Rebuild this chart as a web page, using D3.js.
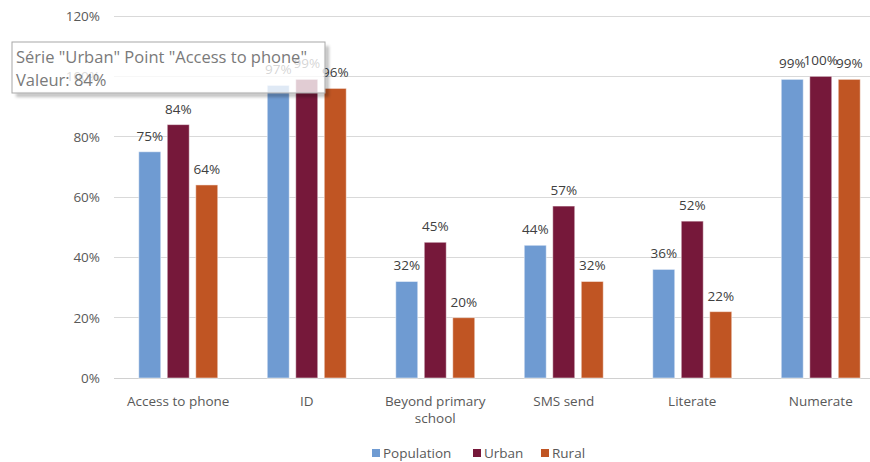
<!DOCTYPE html>
<html><head><meta charset="utf-8">
<script src="https://cdn.jsdelivr.net/npm/d3@7"></script>
<style>
body{margin:0;background:#fff;}
svg{display:block;font-family:"Open Sans","Noto Sans",sans-serif;}
</style></head>
<body><svg id="c" width="870" height="462"></svg>
<script>
const categories = ["Access to phone","ID","Beyond primary school","SMS send","Literate","Numerate"];
const seriesNames = ["Population","Urban","Rural"];
const population = [75,97,32,44,36,99];
const urban = [84,99,45,57,52,100];
const rural = [64,96,20,32,22,99];
const yTicks = [0,20,40,60,80,100,120];
const colors = ["#6f9bd2","#76183a","#c05523"];
const tooltipLines = ['Série "Urban" Point "Access to phone"', 'Valeur: 84%'];

const svg = d3.select("#c");
const x0 = d3.scaleBand().domain(categories).range([114,885]);
const y = d3.scaleLinear().domain([0,120]).range([378,16]);
const GW = 79;
const x1 = d3.scaleBand().domain(seriesNames).range([0,GW]).paddingInner(0.228);
const data = [population,urban,rural];
const FS = 13.5;

// grid
svg.append("g").selectAll("line").data(yTicks).join("line")
  .attr("x1",114).attr("x2",870).attr("y1",d=>y(d)).attr("y2",d=>y(d))
  .attr("stroke",d=>d===0?"#d0d0d0":"#d9d9d9").attr("stroke-width",1).attr("shape-rendering","crispEdges");
svg.append("g").selectAll("text").data(yTicks).join("text")
  .attr("x",100).attr("y",d=>y(d)+5).attr("text-anchor","end")
  .attr("font-size",FS).attr("fill","#595959").text(d=>d+"%");

// bars
const groupOff = (x0.bandwidth()-GW)/2;
seriesNames.forEach((s,si)=>{
  const g = svg.append("g");
  g.selectAll("rect").data(categories).join("rect")
    .attr("x",c=>x0(c)+groupOff+x1(s)).attr("width",x1.bandwidth())
    .attr("y",(c,i)=>y(data[si][i])).attr("height",(c,i)=>y(0)-y(data[si][i]))
    .attr("fill",colors[si]).attr("stroke","rgba(255,255,255,0.5)").attr("stroke-width",1);
  g.selectAll("text").data(categories).join("text")
    .attr("x",c=>x0(c)+groupOff+x1(s)+x1.bandwidth()/2)
    .attr("y",(c,i)=>y(data[si][i])-11)
    .attr("text-anchor","middle").attr("font-size",FS).attr("fill","#404040")
    .text((c,i)=>data[si][i]+"%");
});

// category labels
const cl = svg.append("g");
categories.forEach(c=>{
  const cx = x0(c)+x0.bandwidth()/2;
  const t = cl.append("text").attr("x",cx).attr("y",406)
    .attr("text-anchor","middle").attr("font-size",FS).attr("fill","#595959");
  if(c==="Beyond primary school"){
    t.append("tspan").attr("x",cx).text("Beyond primary");
    t.append("tspan").attr("x",cx).attr("dy",17).text("school");
  } else t.text(c);
});

// legend
const legX = [372,473,541];
seriesNames.forEach((s,i)=>{
  svg.append("rect").attr("x",legX[i]).attr("y",449).attr("width",8).attr("height",8).attr("fill",colors[i]);
  svg.append("text").attr("x",legX[i]+11).attr("y",458).attr("font-size",FS).attr("fill","#595959").text(s);
});

// tooltip
const defs = svg.append("defs");
const f = defs.append("filter").attr("id","bl").attr("x","-20%").attr("y","-50%").attr("width","140%").attr("height","200%");
f.append("feGaussianBlur").attr("stdDeviation",1.5);
const sh = svg.append("g").attr("filter","url(#bl)").attr("fill","#000").attr("fill-opacity",0.25);
sh.append("rect").attr("x",325).attr("y",46).attr("width",4).attr("height",51);
sh.append("rect").attr("x",16).attr("y",93).attr("width",309).attr("height",4);
svg.append("rect").attr("x",12).attr("y",42).attr("width",313).attr("height",51)
  .attr("fill","#fff").attr("fill-opacity",0.78).attr("stroke","#a8a8a8");
tooltipLines.forEach((t,i)=>{
  const tx = svg.append("text").attr("x",16).attr("y",63+i*23).attr("font-size",16.5).attr("fill","#7a7a7a").text(t);
});
</script></body></html>
